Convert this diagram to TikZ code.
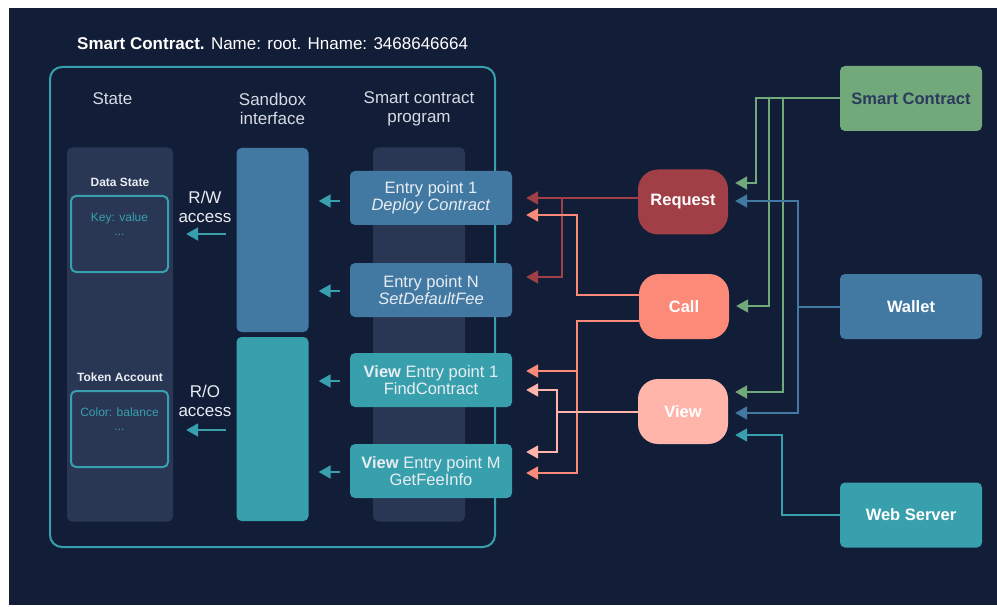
\documentclass[tikz,border=0pt]{standalone}
\usepackage{fontspec}
\setmainfont{Liberation Sans}
\usetikzlibrary{arrows.meta}

\definecolor{navy}{HTML}{121D38}
\definecolor{colbg}{HTML}{293654}
\definecolor{tealc}{HTML}{38A0AC}
\definecolor{steel}{HTML}{4279A2}
\definecolor{darkred}{HTML}{A03F45}
\definecolor{salmon}{HTML}{FB8A79}
\definecolor{pinkc}{HTML}{FFB5AA}
\definecolor{greenc}{HTML}{72A97B}
\definecolor{txt}{HTML}{E9EDF3}
\definecolor{hdtxt}{HTML}{D5DBE4}
\definecolor{sctxt}{HTML}{2B3A5C}

\pgfdeclarelayer{back}
\pgfdeclarelayer{wires}
\pgfsetlayers{back,wires,main}

\newcommand{\fs}[1]{\fontsize{#1}{19}\selectfont}

\begin{document}
\begin{tikzpicture}[x=1pt,y=-1pt,
  box/.style={rectangle, inner sep=0pt, rounded corners=5pt},
  column/.style={box, fill=colbg, minimum width=#1, minimum height=374},
  hd/.style={text=hdtxt, font=\fs{17}, align=center, inner sep=0pt},
  small/.style={text=txt, font=\fs{12}\bfseries, inner sep=0pt},
  store/.style={box, draw=tealc, line width=2pt, minimum width=97, minimum height=76},
  storetxt/.style={text=tealc, font=\fontsize{12}{16}\selectfont, align=center, inner sep=0pt},
  entry/.style={box, fill=#1, minimum width=162, minimum height=54, text=txt,
    font=\fs{16.5}, align=center},
  actor/.style={rectangle, rounded corners=20pt, inner sep=0pt, fill=#1,
    minimum width=90, minimum height=65, text=white, font=\fs{16.5}\bfseries},
  source/.style={box, fill=#1, minimum width=142, minimum height=65,
    text=white, font=\fs{16.5}\bfseries},
  wire/.style={line width=2pt, draw=#1, -{Triangle[length=12pt,width=13pt,fill=#1]}},
  access/.style={text=txt, font=\fs{17}, align=center, inner sep=0pt}
]
\useasboundingbox (0,0) rectangle (997,607);

\begin{pgfonlayer}{back}
  \fill[white] (0,0) rectangle (997,607);
  \fill[navy] (9,8) rectangle (997,605);
\end{pgfonlayer}

% title
\node[anchor=west, inner sep=0pt, text=white, font=\fs{17}] (title) at (77,44)
  {\textbf{Smart Contract.} Name: root. Hname: 3468646664};

% smart contract frame
\node[box, rounded corners=12pt, draw=tealc, line width=2pt,
  minimum width=445, minimum height=480] (frame) at (272.5,307) {};

% column headings
\node[hd] (hstate) at (112.5,99) {State};
\node[hd] (hsandbox) at (272.5,108.5) {Sandbox\\interface};
\node[hd] (hprog) at (419,108.5) {Smart contract\\program};

% columns
\node[column=106] (statecol) at (120,334.5) {};
\node[column=92] (progcol) at (419,334.5) {};
\node[box, fill=steel, minimum width=72, minimum height=184] (sbxrw) at (272.5,240) {};
\node[box, fill=tealc, minimum width=72, minimum height=184] (sbxro) at (272.5,429) {};

% state stores
\node[small] (dslabel) at (120,182) {Data State};
\node[store] (ds) at (119.5,234) {};
\node[storetxt, anchor=north] (dstxt) at (119.5,213) {Key: value\\[-2pt]...};
\node[small] (talabel) at (120,377) {Token Account};
\node[store] (ta) at (119.5,429) {};
\node[storetxt, anchor=north] (tatxt) at (119.5,408) {Color: balance\\[-2pt]...};

% access labels and arrows
\node[access] (rw) at (205,206.5) {R/W\\access};
\node[access] (ro) at (205,401) {R/O\\access};
\draw[wire=tealc] (sbxrw.west |- 0,234) ++(-10,0) -- ([xshift=13pt]statecol.east |- 0,234);
\draw[wire=tealc] (sbxro.west |- 0,430) ++(-10,0) -- ([xshift=13pt]statecol.east |- 0,430);

% entry points
\node[entry=steel] (ep1) at (431,198) {\raisebox{-2pt}{Entry point 1}\\\textit{Deploy Contract}};
\node[entry=steel] (epn) at (431,290) {\raisebox{-2pt}{Entry point N}\\\textit{SetDefaultFee}};
\node[entry=tealc] (vep1) at (431,380) {\raisebox{-2pt}{\textbf{View} Entry point 1}\\FindContract};
\node[entry=tealc] (vepm) at (431,471) {\raisebox{-2pt}{\textbf{View} Entry point M}\\GetFeeInfo};

% entry points call into the sandbox
\draw[wire=tealc] (ep1.west |- 0,201) ++(-10,0) -- ([xshift=10pt]sbxrw.east |- 0,201);
\draw[wire=tealc] (epn.west |- 0,291) ++(-10,0) -- ([xshift=10pt]sbxrw.east |- 0,291);
\draw[wire=tealc] (vep1.west |- 0,381) ++(-10,0) -- ([xshift=10pt]sbxro.east |- 0,381);
\draw[wire=tealc] (vepm.west |- 0,472) ++(-10,0) -- ([xshift=10pt]sbxro.east |- 0,472);

% request kinds
\node[actor=darkred] (req) at (683,202) {Request};
\node[actor=salmon] (call) at (684,306.5) {Call};
\node[actor=pinkc] (view) at (683,411.5) {View};

% callers
\node[source=greenc, text=sctxt] (scr) at (911,98.5) {Smart Contract};
\node[source=steel] (wallet) at (911,306.5) {Wallet};
\node[source=tealc] (web) at (911,515) {Web Server};

\begin{pgfonlayer}{wires}
  % callers to request kinds
  \draw[wire=greenc] (scr.west) -| (756,183) -- ([xshift=7pt]req.east |- 0,183);
  \draw[wire=greenc] (scr.west) -| (769,306) -- ([xshift=7pt]call.east |- 0,306);
  \draw[wire=greenc] (scr.west) -| (783,392) -- ([xshift=7pt]view.east |- 0,392);
  \draw[wire=steel] (wallet.west) -| (798,201) -- ([xshift=7pt]req.east |- 0,201);
  \draw[wire=steel] (wallet.west) -| (798,413) -- ([xshift=7pt]view.east |- 0,413);
  \draw[wire=tealc] (web.west) -| (782,435) -- ([xshift=7pt]view.east |- 0,435);

  % request kinds to entry points
  \draw[wire=darkred] (req.west |- 0,198) -- ([xshift=14pt]ep1.east |- 0,198);
  \draw[wire=darkred] (req.west |- 0,198) -| (562,277) -- ([xshift=14pt]epn.east |- 0,277);
  \draw[wire=salmon] (call.west |- 0,295) -| (577,215) -- ([xshift=14pt]ep1.east |- 0,215);
  \draw[wire=salmon] (call.west |- 0,321) -| (577,371) -- ([xshift=14pt]vep1.east |- 0,371);
  \draw[wire=salmon] (call.west |- 0,321) -| (577,473) -- ([xshift=14pt]vepm.east |- 0,473);
  \draw[wire=pinkc] (view.west) -| (557,390) -- ([xshift=14pt]vep1.east |- 0,390);
  \draw[wire=pinkc] (view.west) -| (557,452) -- ([xshift=14pt]vepm.east |- 0,452);
\end{pgfonlayer}
\end{tikzpicture}
\end{document}
